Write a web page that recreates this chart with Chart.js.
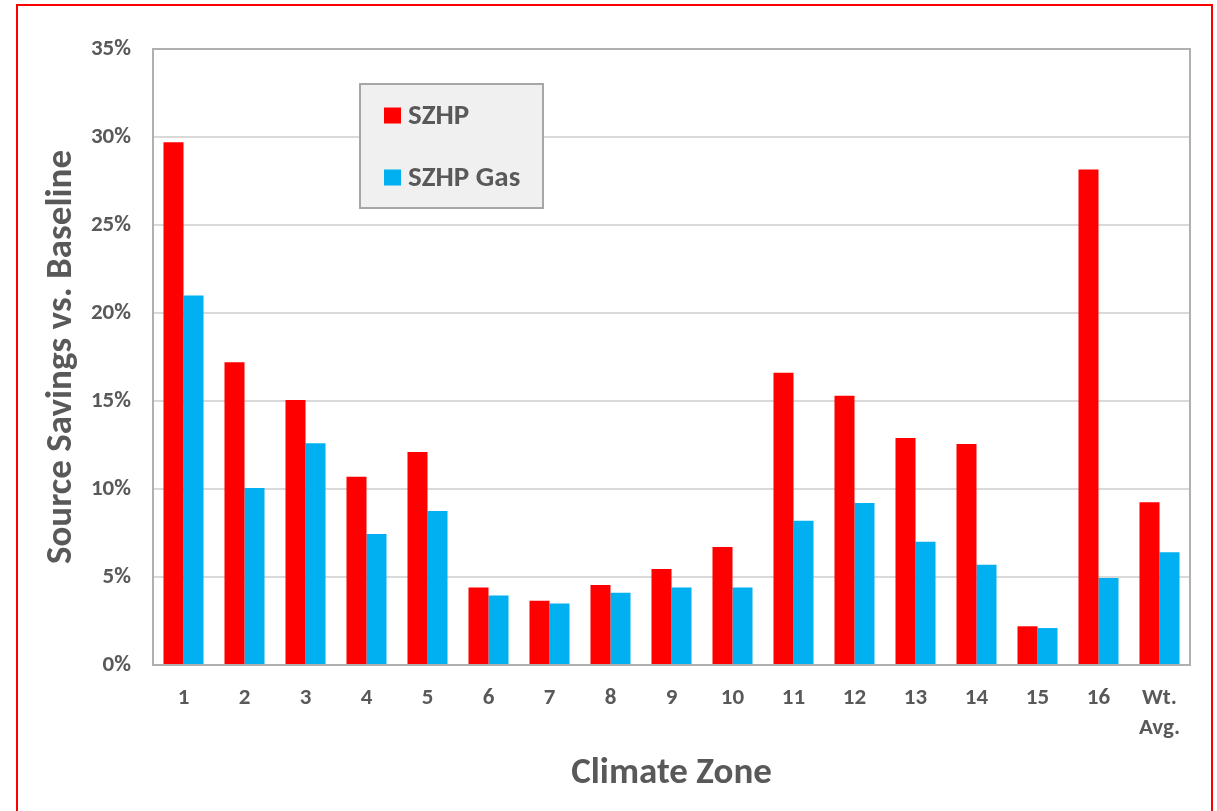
<!DOCTYPE html>
<html>
<head>
<meta charset="utf-8">
<title>Source Savings vs. Baseline by Climate Zone</title>
<script src="https://cdn.jsdelivr.net/npm/chart.js@4.4.1/dist/chart.umd.min.js"></script>
<style>
  html, body { margin: 0; padding: 0; background: #ffffff; }
  #wrap { position: relative; width: 1217px; height: 811px; overflow: hidden; }
  #frame {
    position: absolute; left: 16px; top: 4px; width: 1197px; height: 900px;
    box-sizing: border-box; border: 2px solid #ff0000; pointer-events: none;
  }
  canvas { position: absolute; left: 0; top: 0; }
</style>
</head>
<body>
<div id="wrap">
  <canvas id="chart" width="1217" height="811"></canvas>
  <div id="frame"></div>
</div>
<script>
// Climate zones plus the weighted average
const zones = ['1', '2', '3', '4', '5', '6', '7', '8', '9', '10', '11', '12', '13', '14', '15', '16', ['Wt.', 'Avg.']];

// Source savings vs. baseline, in percent
const szhp    = [29.7, 17.2, 15.05, 10.7, 12.1, 4.4, 3.65, 4.55, 5.45, 6.7, 16.6, 15.3, 12.9, 12.55, 2.2, 28.15, 9.25];
const szhpGas = [21.0, 10.05, 12.6, 7.45, 8.75, 3.95, 3.5, 4.1, 4.4, 4.4, 8.2, 9.2, 7.0, 5.7, 2.1, 4.95, 6.4];

// Y axis range and step
const yMin = 0, yMax = 35, yStep = 5;

const FONT = "Carlito, Lato, 'Open Sans', 'Liberation Sans', sans-serif";
const TEXT = '#595959';

// Frame around the plot area (top and right sides plus the axes)
const plotFrame = {
  id: 'plotFrame',
  afterDatasetsDraw(chart) {
    const { ctx, chartArea: a } = chart;
    ctx.save();
    ctx.strokeStyle = '#b0b0b0';
    ctx.lineWidth = 2;
    ctx.strokeRect(a.left, a.top, a.right - a.left, a.bottom - a.top);
    ctx.restore();
  }
};

// Boxed legend sitting inside the plot area
const boxLegend = {
  id: 'boxLegend',
  afterDraw(chart, args, opts) {
    const { ctx } = chart;
    const x = opts.x, y = opts.y, w = opts.width, h = opts.height;
    ctx.save();
    ctx.fillStyle = '#f0f0f0';
    ctx.fillRect(x, y, w, h);
    ctx.strokeStyle = '#a6a6a6';
    ctx.lineWidth = 2;
    ctx.strokeRect(x, y, w, h);
    ctx.font = 'bold 29px ' + FONT;
    ctx.textBaseline = 'middle';
    chart.data.datasets.forEach((ds, i) => {
      const cy = y + 31.5 + i * 62;
      ctx.fillStyle = ds.backgroundColor;
      ctx.fillRect(x + 24, cy - 8, 17, 16);
      ctx.fillStyle = TEXT;
      ctx.fillText(ds.label, x + 48, cy + 1);
    });
    ctx.restore();
  }
};

new Chart(document.getElementById('chart'), {
  type: 'bar',
  data: {
    labels: zones,
    datasets: [
      { label: 'SZHP', data: szhp, backgroundColor: '#ff0000' },
      { label: 'SZHP Gas', data: szhpGas, backgroundColor: '#00b0f0' }
    ]
  },
  options: {
    responsive: false,
    animation: false,
    layout: { padding: { left: 0, top: 49, right: 27, bottom: 0 } },
    datasets: { bar: { categoryPercentage: 0.656, barPercentage: 1.0 } },
    plugins: {
      legend: { display: false },
      tooltip: { enabled: false },
      boxLegend: { x: 360, y: 84, width: 183, height: 124 }
    },
    scales: {
      x: {
        grid: { display: false, drawTicks: false },
        border: { display: true, color: '#b0b0b0', width: 2 },
        ticks: {
          color: TEXT, padding: 18,
          font: { family: FONT, size: 23, weight: 'bold', lineHeight: 1.3 },
          maxRotation: 0, autoSkip: false
        },
        title: {
          display: true, text: 'Climate Zone', color: TEXT,
          font: { family: FONT, size: 37, weight: 'bold', lineHeight: 1.2 },
          padding: { top: 0, bottom: 15 }
        },
        afterFit(scale) { scale.height = 146; }
      },
      y: {
        min: yMin, max: yMax,
        grid: { color: '#d9d9d9', lineWidth: 2, drawTicks: false },
        border: { display: true, color: '#b0b0b0', width: 2 },
        ticks: {
          stepSize: yStep, color: TEXT, padding: 22,
          font: { family: FONT, size: 23, weight: 'bold' },
          callback: v => v + '%'
        },
        title: {
          display: true, text: 'Source Savings vs. Baseline', color: TEXT,
          font: { family: FONT, size: 37, weight: 'bold', lineHeight: 1.2 },
          padding: { top: 40, bottom: 0 }
        },
        afterFit(scale) { scale.width = 153; }
      }
    }
  },
  plugins: [plotFrame, boxLegend]
});
</script>
</body>
</html>
